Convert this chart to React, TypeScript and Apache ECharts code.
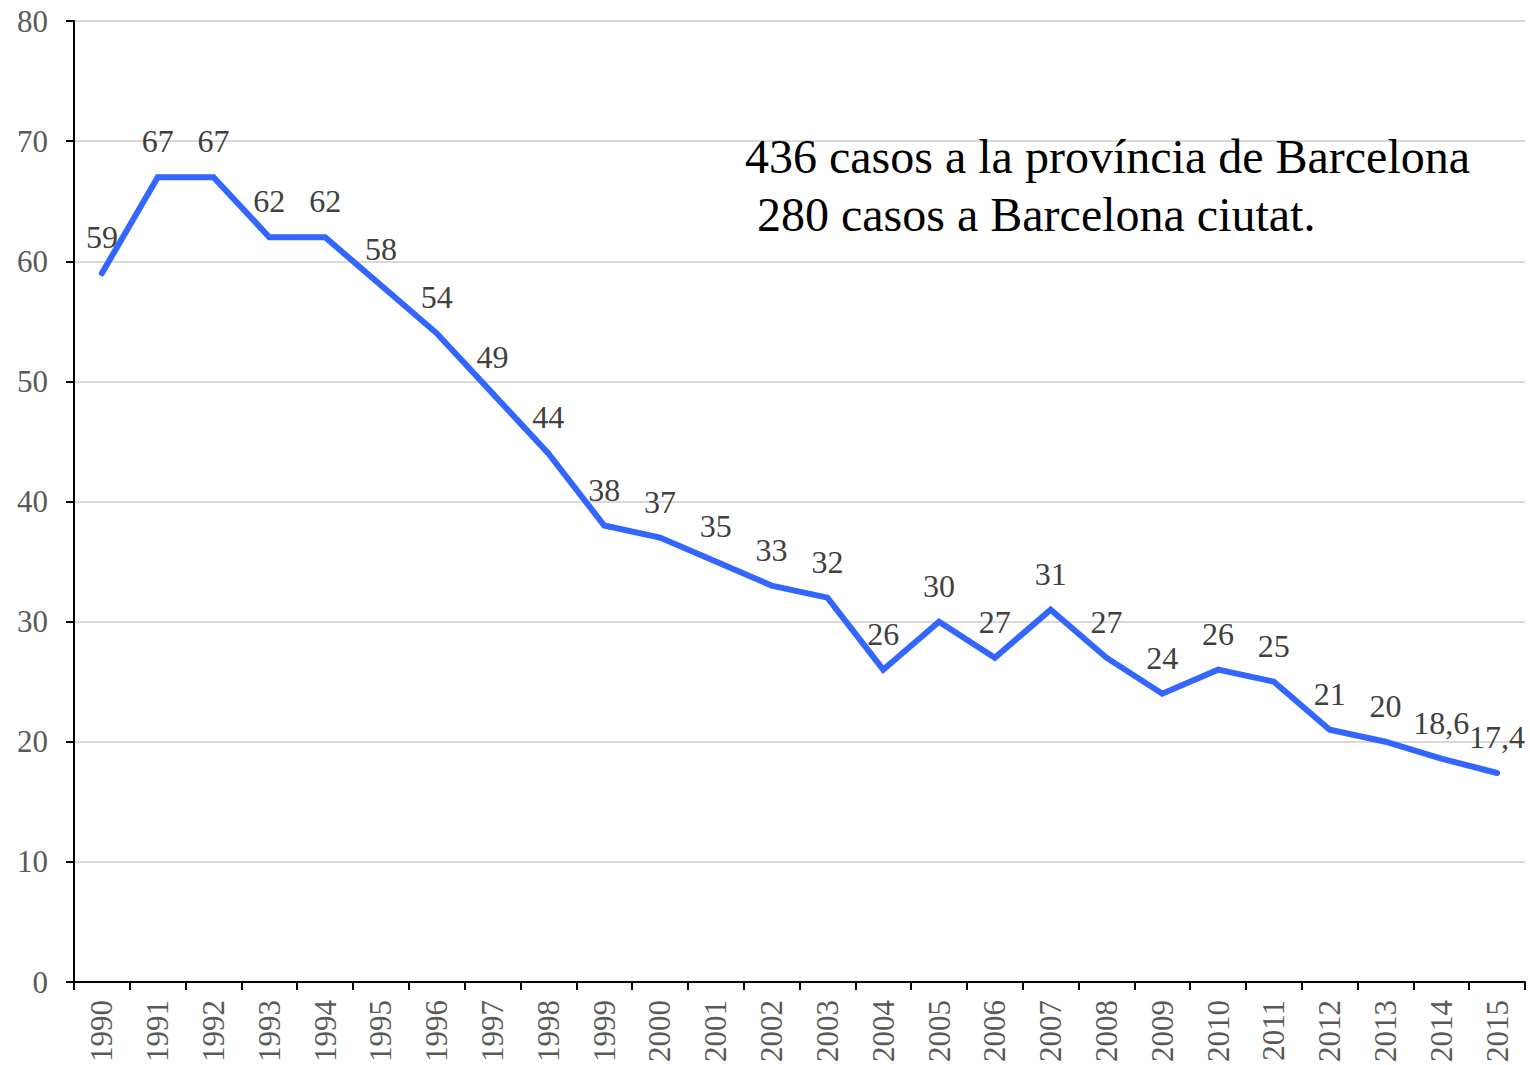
import React, { useEffect, useRef } from "react";
import * as echarts from "echarts";

const years = ["1990","1991","1992","1993","1994","1995","1996","1997","1998","1999","2000","2001","2002","2003","2004","2005","2006","2007","2008","2009","2010","2011","2012","2013","2014","2015"];
const values = [59,67,67,62,62,58,54,49,44,38,37,35,33,32,26,30,27,31,27,24,26,25,21,20,18.6,17.4];
const annotationLines = ["436 casos a la província de Barcelona", " 280 casos a Barcelona ciutat."];

const FONT = "'Liberation Serif', 'Times New Roman', serif";

export default function App() {
  const ref = useRef<HTMLDivElement>(null);
  useEffect(() => {
    if (!ref.current) return;
    const chart = echarts.init(ref.current, undefined, { renderer: "svg" });
    chart.setOption({
      animation: false,
      backgroundColor: "#ffffff",
      grid: { left: 74, right: 5, top: 21, bottom: 83, containLabel: false },
      xAxis: {
        type: "category",
        data: years,
        boundaryGap: true,
        axisLine: { lineStyle: { color: "#000", width: 2 } },
        axisTick: { show: true, length: 8, lineStyle: { color: "#000", width: 2 } },
        axisLabel: { rotate: 90, margin: 18, color: "#595959", fontFamily: FONT, fontSize: 31, interval: 0 },
        splitLine: { show: false },
      },
      yAxis: {
        type: "value",
        min: 0,
        max: 80,
        interval: 10,
        axisLine: { show: true, lineStyle: { color: "#000", width: 2 } },
        axisTick: { show: true, length: 8, lineStyle: { color: "#000", width: 2 } },
        axisLabel: { margin: 26, color: "#595959", fontFamily: FONT, fontSize: 31 },
        splitLine: { show: true, lineStyle: { color: "#d9d9d9", width: 2 } },
      },
      series: [
        {
          type: "line",
          data: values,
          symbol: "circle",
          symbolSize: 0,
          showSymbol: true,
          lineStyle: { color: "#3366ff", width: 6, cap: "round", join: "miter" },
          itemStyle: { color: "#3366ff" },
          labelLayout: { hideOverlap: false },
          label: {
            show: true,
            position: "top",
            distance: 20,
            color: "#404040",
            fontFamily: FONT,
            fontSize: 32,
            formatter: (p: any) => String(p.value).replace(".", ","),
          },
        },
      ],
      graphic: annotationLines.map((t, i) => ({
        type: "text",
        left: 745,
        top: 132 + i * 58,
        z: 100,
        style: { text: t, fill: "#000", font: `48px ${FONT}` },
      })),
    });
    return () => chart.dispose();
  }, []);
  return <div ref={ref} style={{ position: "fixed", left: 0, top: 0, width: 1530, height: 1065 }} />;
}
